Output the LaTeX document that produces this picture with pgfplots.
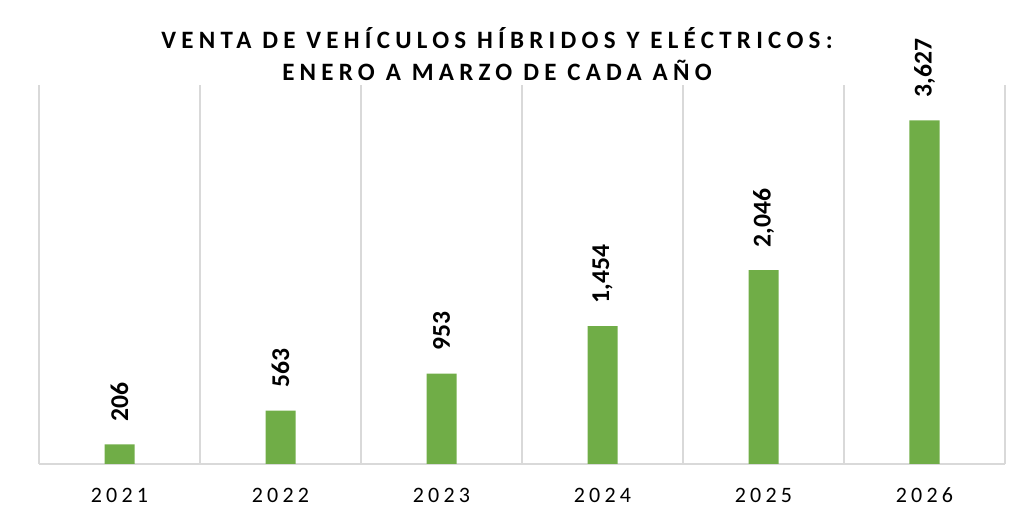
\documentclass[border=0pt]{standalone}
\usepackage{fontspec}
\setmainfont{Carlito}
\usepackage{pgfplots}
\pgfplotsset{compat=1.18}
\definecolor{bargreen}{HTML}{70AD47}
\definecolor{gridgray}{HTML}{D9D9D9}
\newfontfamily\titlefont[LetterSpace=21]{Carlito}
\newfontfamily\tickfont[LetterSpace=19]{Carlito}
\begin{document}
\begin{tikzpicture}
\path[use as bounding box] (0,0) rectangle (512pt,254.5pt);
\begin{axis}[
  at={(19.5pt,22.5pt)}, anchor=south west,
  scale only axis, width=483pt, height=189.5pt,
  xmin=-0.5, xmax=5.5, ymin=0, ymax=4000,
  xtick={0,1,2,3,4,5},
  xticklabels={2021,2022,2023,2024,2025,2026},
  minor xtick={-0.5,0.5,1.5,2.5,3.5,4.5,5.5},
  xminorgrids, minor grid style={gridgray, line width=0.75pt},
  ytick=\empty,
  major tick length=0pt, minor tick length=0pt,
  axis x line*=bottom, axis y line=none,
  x axis line style={gridgray, line width=0.75pt, -},
  xticklabel style={font=\tickfont\fontsize{11}{13}\selectfont, yshift=-8.5pt},
  ybar, bar width=15pt,
  nodes near coords,
  every node near coord/.append style={rotate=90, anchor=west, font=\bfseries\fontsize{12.8}{14}\selectfont, black, xshift=8pt},
  /pgf/number format/.cd, 1000 sep={,}, fixed, assume math mode=true,
]
\addplot[fill=bargreen, draw=none] coordinates {(0,206) (1,563) (2,953) (3,1454) (4,2046) (5,3627)};
\end{axis}
\node[font=\titlefont\bfseries\fontsize{12.5}{16}\selectfont, align=center] at (248.5pt,235.5pt) {VENTA DE VEHÍCULOS HÍBRIDOS Y ELÉCTRICOS:};
\node[font=\titlefont\bfseries\fontsize{12.5}{16}\selectfont, align=center] at (248.5pt,219.5pt) {ENERO A MARZO DE CADA AÑO};
\end{tikzpicture}
\end{document}
